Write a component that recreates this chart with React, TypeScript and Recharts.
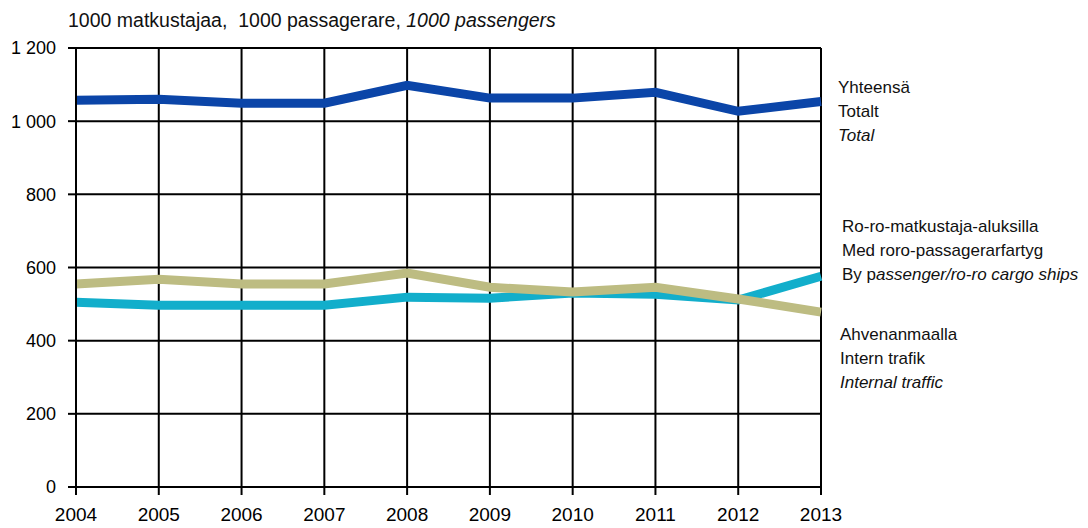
import { LineChart, Line, XAxis, YAxis, CartesianGrid } from 'recharts'

const years = ['2004', '2005', '2006', '2007', '2008', '2009', '2010', '2011', '2012', '2013']
const total = [1057, 1060, 1049, 1049, 1098, 1063, 1063, 1079, 1027, 1054]
const roro = [505, 497, 497, 497, 519, 516, 530, 527, 511, 576]
const internal = [555, 568, 555, 555, 585, 546, 533, 546, 514, 478]
const yTicks = [0, 200, 400, 600, 800, 1000, 1200]

const data = years.map((year, i) => ({
  year,
  total: total[i],
  roro: roro[i],
  internal: internal[i],
}))

const FONT = '"Liberation Sans", Arial, sans-serif'
const yTickStyle = { fontSize: 18, fontFamily: FONT, fill: '#000' }
const xTickStyle = { fontSize: 19, fontFamily: FONT, fill: '#000' }

// "1 200" style thousands separator
const fmt = (v: number) => (v >= 1000 ? `${Math.floor(v / 1000)} ${String(v % 1000).padStart(3, '0')}` : String(v))

const labelStyle: React.CSSProperties = {
  position: 'absolute',
  fontFamily: FONT,
  fontSize: 17,
  lineHeight: '24px',
  color: '#111',
  whiteSpace: 'nowrap',
}

export default function App() {
  return (
    <div style={{ position: 'absolute', left: 0, top: 0, width: 1088, height: 528, background: '#fff', overflow: 'hidden' }}>
      <div style={{ ...labelStyle, left: 68, top: 8, fontSize: 19.5 }}>
        1000 matkustajaa,&nbsp; 1000 passagerare, <i>1000 passengers</i>
      </div>

      <LineChart width={1088} height={528} data={data} margin={{ top: 48, right: 267, bottom: 0, left: 0 }}>
        <CartesianGrid stroke="#000" strokeWidth={2} />
        <XAxis
          dataKey="year"
          height={41}
          tick={xTickStyle}
          tickSize={8}
          tickMargin={13}
          axisLine={{ stroke: '#000', strokeWidth: 2 }}
          tickLine={{ stroke: '#000', strokeWidth: 2 }}
        />
        <YAxis
          width={76}
          domain={[0, 1200]}
          ticks={yTicks}
          tickFormatter={fmt}
          tick={yTickStyle}
          tickSize={8}
          tickMargin={12}
          axisLine={{ stroke: '#000', strokeWidth: 2 }}
          tickLine={{ stroke: '#000', strokeWidth: 2 }}
        />
        <Line type="linear" dataKey="total" stroke="#0B45A8" strokeWidth={9} dot={false} isAnimationActive={false} />
        <Line type="linear" dataKey="roro" stroke="#12AECB" strokeWidth={9} dot={false} isAnimationActive={false} />
        <Line type="linear" dataKey="internal" stroke="#BDBC82" strokeWidth={9} dot={false} isAnimationActive={false} />
      </LineChart>

      <div style={{ ...labelStyle, left: 838, top: 76 }}>
        Yhteensä<br />Totalt<br /><i>Total</i>
      </div>
      <div style={{ ...labelStyle, left: 842, top: 215 }}>
        Ro-ro-matkustaja-aluksilla<br />Med roro-passagerarfartyg<br />By p<i>assenger/ro-ro cargo ships</i>
      </div>
      <div style={{ ...labelStyle, left: 840, top: 323 }}>
        Ahvenanmaalla<br />Intern trafik<br /><i>Internal traffic</i>
      </div>
    </div>
  )
}
